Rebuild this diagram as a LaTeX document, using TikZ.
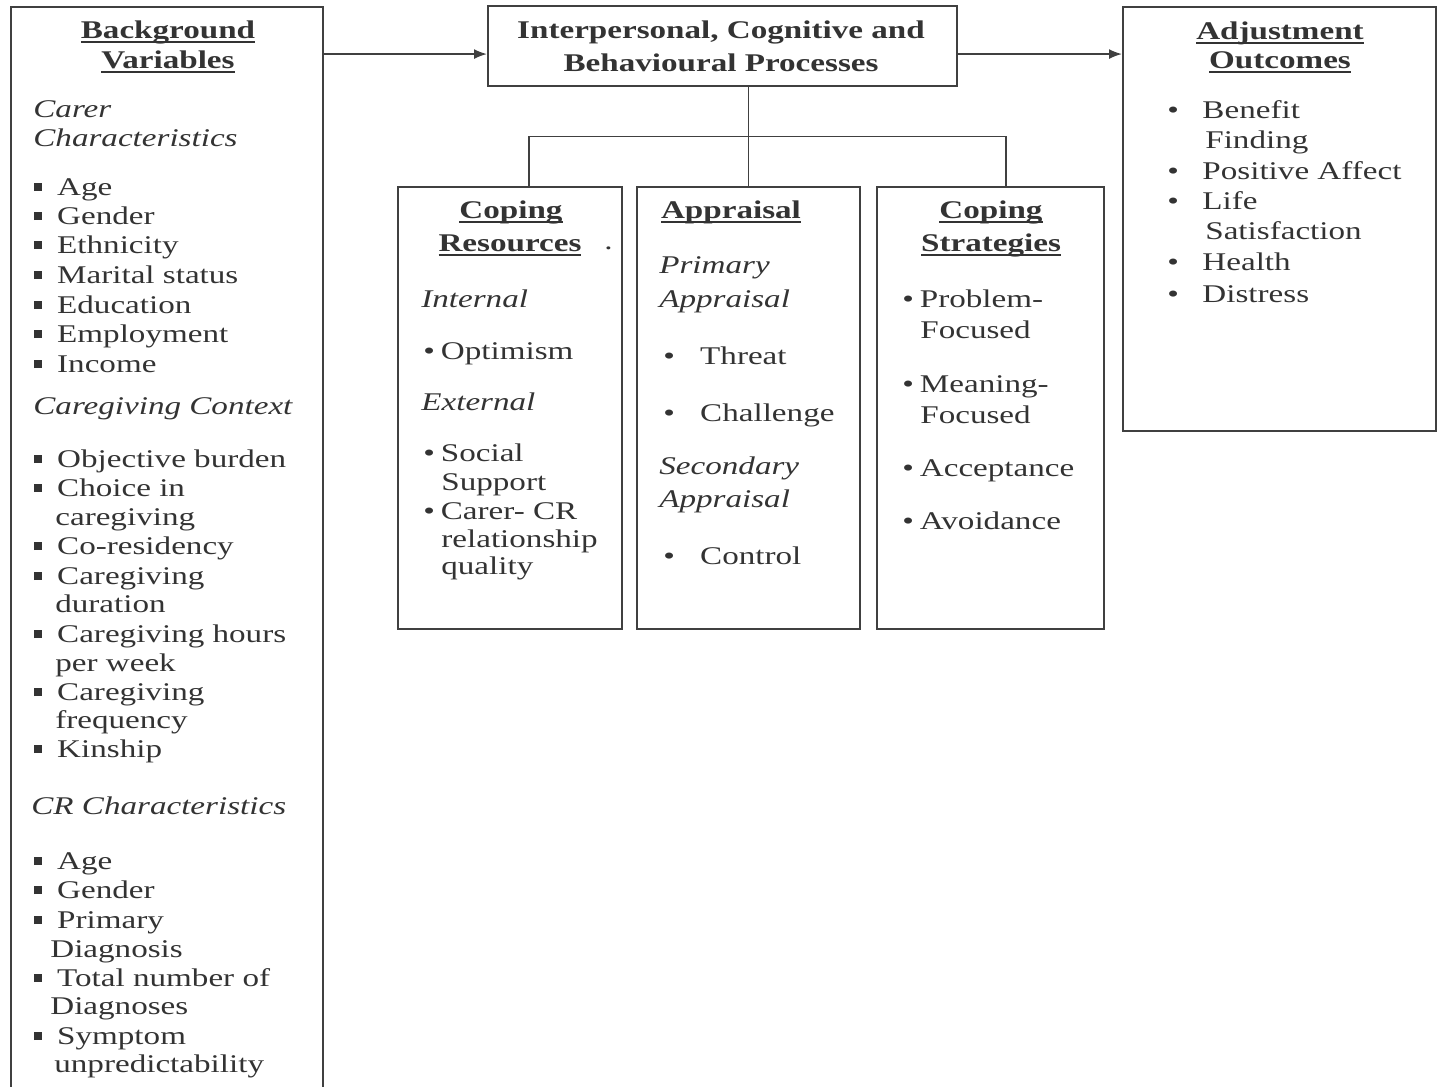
\documentclass[tikz,border=0pt]{standalone}
\usepackage{fontspec}
\setmainfont{Liberation Serif}[FakeStretch=1.3]
\usepackage{tikz}
\usetikzlibrary{arrows.meta,calc}
\newcommand{\fs}{\fontsize{14.5}{17}\selectfont}
\newcommand{\sqb}{\makebox[13pt][l]{\rule[2.2pt]{4.6pt}{4.6pt}}}
\newcommand{\rdb}[1]{\makebox[#1][l]{\textbullet}}
\newcommand{\hd}[1]{\textbf{\setbox0\hbox{#1}\rlap{\rule[-2.6pt]{\wd0}{1.1pt}}\box0}}

\begin{document}
\begin{tikzpicture}[x=0.02cm,y=-0.02cm,>={Latex[length=2.6mm,width=2mm]},font=\fs,line cap=round,
  box/.style={draw=black!75,line width=1.2pt,anchor=north west,inner sep=0pt},
  txt/.style={anchor=base west,inner sep=0pt,text=black!80},
  hdr/.style={anchor=base,inner sep=0pt,text=black!80},
  sub/.style={txt,font=\fs\itshape},
  link/.style={draw=black!75,line width=1pt},
  flow/.style={link,->}]
\useasboundingbox (0,0) rectangle (1444,1086);
% boxes
\node[box,minimum width=6.24cm,minimum height=21.9cm] (bg) at (10,6) {};
\node[box,minimum width=9.38cm,minimum height=1.6cm] (proc) at (487,5) {};
\node[box,minimum width=6.26cm,minimum height=8.48cm] (adj) at (1122,6) {};
\node[box,minimum width=4.48cm,minimum height=8.84cm] (res) at (397,186) {};
\node[box,minimum width=4.46cm,minimum height=8.84cm] (appr) at (636,186) {};
\node[box,minimum width=4.54cm,minimum height=8.84cm] (strat) at (876,186) {};
% connectors
\coordinate (p-in) at ([yshift=-0.16cm]proc.west);
\coordinate (p-out) at ([yshift=-0.16cm]proc.east);
\draw[flow] (bg.east |- p-in) -- (p-in);
\draw[flow] (p-out) -- (adj.west |- p-out);
\coordinate (split) at ($(appr.north |- proc.south)!0.5!(appr.north)$);
\draw[link] (appr.north |- proc.south) -- (appr.north);
\draw[link] ([xshift=0.38cm]res.north) |- (split) -| ([xshift=0.31cm]strat.north);
% background variables
\node[hdr] (bg-h1) at (168,38) {\hd{Background}};
\node[hdr] (bg-h2) at (168,68) {\hd{Variables}};
\node[sub] (car-1) at (33,117) {Carer};
\node[sub] (car-2) at (33,146) {Characteristics};
\node[txt] (car-age) at (34,195) {\sqb Age};
\node[txt] (car-gen) at (34,224) {\sqb Gender};
\node[txt] (car-eth) at (34,253) {\sqb Ethnicity};
\node[txt] (car-mar) at (34,283) {\sqb Marital status};
\node[txt] (car-edu) at (34,313) {\sqb Education};
\node[txt] (car-emp) at (34,342) {\sqb Employment};
\node[txt] (car-inc) at (34,372) {\sqb Income};
\node[sub] (ctx) at (33,414) {Caregiving Context};
\node[txt] (ctx-obj) at (34,467) {\sqb Objective burden};
\node[txt] (ctx-cho1) at (34,496) {\sqb Choice in};
\node[txt] (ctx-cho2) at (55,525) {caregiving};
\node[txt] (ctx-cor) at (34,554) {\sqb Co-residency};
\node[txt] (ctx-dur1) at (34,584) {\sqb Caregiving};
\node[txt] (ctx-dur2) at (55,612) {duration};
\node[txt] (ctx-hrs1) at (34,642) {\sqb Caregiving hours};
\node[txt] (ctx-hrs2) at (55,671) {per week};
\node[txt] (ctx-frq1) at (34,700) {\sqb Caregiving};
\node[txt] (ctx-frq2) at (55,728) {frequency};
\node[txt] (ctx-kin) at (34,757) {\sqb Kinship};
\node[sub] (cr) at (31,814) {CR Characteristics};
\node[txt] (cr-age) at (34,869) {\sqb Age};
\node[txt] (cr-gen) at (34,898) {\sqb Gender};
\node[txt] (cr-dia1) at (34,928) {\sqb Primary};
\node[txt] (cr-dia2) at (50,957) {Diagnosis};
\node[txt] (cr-tot1) at (34,986) {\sqb Total number of};
\node[txt] (cr-tot2) at (50,1014) {Diagnoses};
\node[txt] (cr-sym1) at (34,1044) {\sqb Symptom};
\node[txt] (cr-sym2) at (54,1072) {unpredictability};
% processes
\node[hdr] (proc-t1) at (721,38) {\textbf{Interpersonal, Cognitive and}};
\node[hdr] (proc-t2) at (721,71) {\textbf{Behavioural Processes}};
% coping resources
\node[hdr] (res-h1) at (511,218) {\hd{Coping}};
\node[hdr] (res-h2) at (510,251) {\hd{Resources}};
\node[txt] (res-dot) at (604,249) {.};
\node[sub] (res-int) at (421,307) {Internal};
\node[txt] (res-opt) at (423,359) {\rdb{10pt}Optimism};
\node[sub] (res-ext) at (421,410) {External};
\node[txt] (res-soc1) at (423,461) {\rdb{10pt}Social};
\node[txt] (res-soc2) at (441,490) {Support};
\node[txt] (res-rel1) at (423,519) {\rdb{10pt}Carer- CR};
\node[txt] (res-rel2) at (441,547) {relationship};
\node[txt] (res-rel3) at (441,574) {quality};
% appraisal
\node[hdr] (appr-h) at (731,218) {\hd{Appraisal}};
\node[sub] (appr-p1) at (659,273) {Primary};
\node[sub] (appr-p2) at (659,307) {Appraisal};
\node[txt] (appr-thr) at (663,364) {\rdb{21pt}Threat};
\node[txt] (appr-cha) at (663,421) {\rdb{21pt}Challenge};
\node[sub] (appr-s1) at (659,474) {Secondary};
\node[sub] (appr-s2) at (659,507) {Appraisal};
\node[txt] (appr-con) at (663,564) {\rdb{21pt}Control};
% coping strategies
\node[hdr] (strat-h1) at (991,218) {\hd{Coping}};
\node[hdr] (strat-h2) at (991,251) {\hd{Strategies}};
\node[txt] (strat-pro1) at (902,307) {\rdb{10pt}Problem-};
\node[txt] (strat-pro2) at (920,338) {Focused};
\node[txt] (strat-mea1) at (902,392) {\rdb{10pt}Meaning-};
\node[txt] (strat-mea2) at (920,423) {Focused};
\node[txt] (strat-acc) at (902,476) {\rdb{10pt}Acceptance};
\node[txt] (strat-avo) at (902,529) {\rdb{10pt}Avoidance};
% adjustment outcomes
\node[hdr] (adj-h1) at (1280,39) {\hd{Adjustment}};
\node[hdr] (adj-h2) at (1280,68) {\hd{Outcomes}};
\node[txt] (adj-ben1) at (1167,118) {\rdb{20pt}Benefit};
\node[txt] (adj-ben2) at (1205,148) {Finding};
\node[txt] (adj-pos) at (1167,179) {\rdb{20pt}Positive Affect};
\node[txt] (adj-lif1) at (1167,209) {\rdb{20pt}Life};
\node[txt] (adj-lif2) at (1205,239) {Satisfaction};
\node[txt] (adj-hea) at (1167,270) {\rdb{20pt}Health};
\node[txt] (adj-dis) at (1167,302) {\rdb{20pt}Distress};
\end{tikzpicture}
\end{document}
